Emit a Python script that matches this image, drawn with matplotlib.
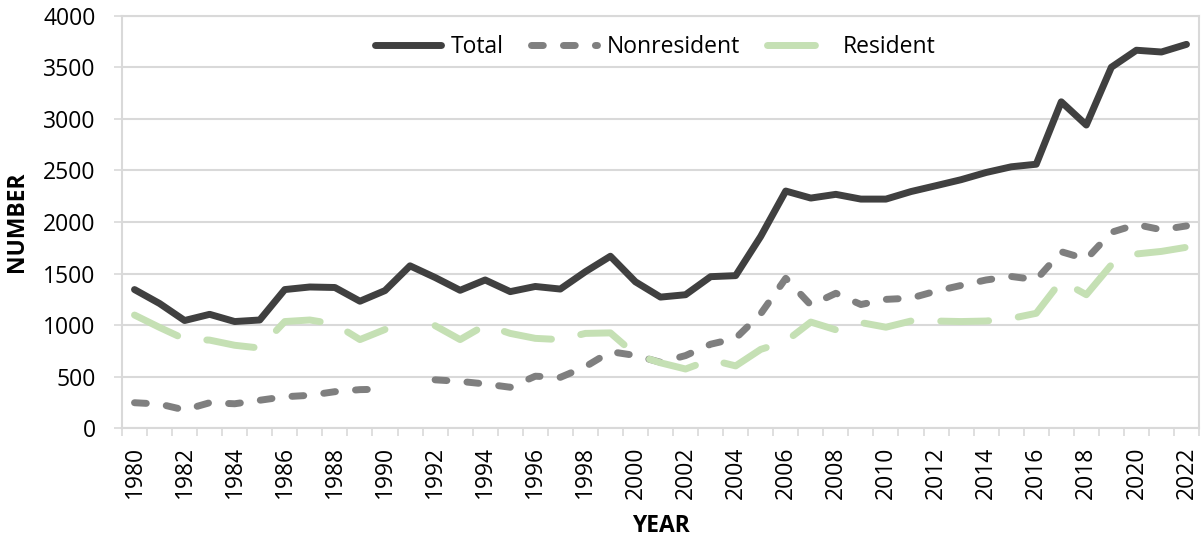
import numpy as np
import matplotlib.pyplot as plt
from matplotlib.ticker import MultipleLocator, FixedLocator

plt.rcParams["font.family"] = ["Open Sans", "DejaVu Sans"]

years = list(range(1980, 2023))

total = [1345, 1210, 1045, 1105, 1035, 1050, 1345, 1370, 1365, 1232,
         1335, 1575, 1462, 1338, 1438, 1325, 1375, 1350, 1518, 1668,
         1420, 1272, 1295, 1470, 1480, 1860, 2300, 2232, 2268, 2222,
         2222, 2295, 2352, 2410, 2480, 2535, 2560, 3165, 2940, 3500,
         3665, 3648, 3722]

# 1991 has no split between resident / nonresident (gap in the source chart)
nonresident = [248, 235, 178, 248, 238, 272, 306, 320, 355, 375,
               380, np.nan, 470, 455, 430, 398, 505, 494, 597, 743,
               706, 640, 705, 815, 872, 1110, 1454, 1195, 1309, 1200,
               1250, 1262, 1330, 1385, 1438, 1472, 1440, 1712, 1640, 1900,
               1975, 1925, 1962]

resident = [1098, 978, 865, 855, 805, 778, 1035, 1050, 1010, 860,
            958, np.nan, 995, 860, 1000, 920, 872, 860, 920, 925,
            715, 635, 575, 665, 605, 765, 843, 1030, 955, 1025,
            980, 1040, 1040, 1035, 1040, 1065, 1115, 1430, 1295, 1585,
            1690, 1715, 1755]

GRID = "#D9D9D9"
FS = 16.5


def main():
    fig = plt.figure(figsize=(12.03, 5.37), dpi=100)
    ax = fig.add_axes([0.1014, 0.2024, 0.8953, 0.7684])

    lw = 5.0
    ax.plot(years, total, color="#404040", lw=lw, label="Total",
            solid_capstyle="round")
    ax.plot(years, nonresident, color="#7F7F7F", lw=lw, label="Nonresident",
            dashes=(1.7, 2.9), dash_capstyle="round")
    ax.plot(years, resident, color="#C5E0B4", lw=lw, label="Resident",
            dashes=(6.9, 4.3), dash_capstyle="round")

    ax.set_xlim(1979.5, 2022.5)
    ax.set_ylim(0, 4000)
    ax.yaxis.set_major_locator(MultipleLocator(500))
    ax.xaxis.set_major_locator(FixedLocator(years[::2]))
    ax.xaxis.set_minor_locator(FixedLocator([y - 0.5 for y in years] + [2022.5]))

    ax.grid(axis="y", color=GRID, lw=1.5)
    ax.set_axisbelow(True)
    for s in ax.spines.values():
        s.set_color(GRID)
        s.set_linewidth(1.5)

    ax.tick_params(axis="x", which="major", length=0, pad=13, labelsize=FS,
                   labelrotation=90)
    ax.tick_params(axis="x", which="minor", length=6, width=1.2, color=GRID)
    ax.tick_params(axis="y", length=6, width=1.2, color=GRID, pad=13,
                   labelsize=FS)

    ax.set_xlabel("YEAR", fontsize=FS, fontweight="bold", labelpad=11)
    ax.set_ylabel("NUMBER", fontsize=FS, fontweight="bold", labelpad=10)

    ax.legend(loc="center", bbox_to_anchor=(0.495, 0.923), ncol=3,
              frameon=False, fontsize=FS, handlelength=2.9,
              handletextpad=0.4, columnspacing=1.2)

    fig.savefig("out.png", dpi=100)


if __name__ == "__main__":
    main()
